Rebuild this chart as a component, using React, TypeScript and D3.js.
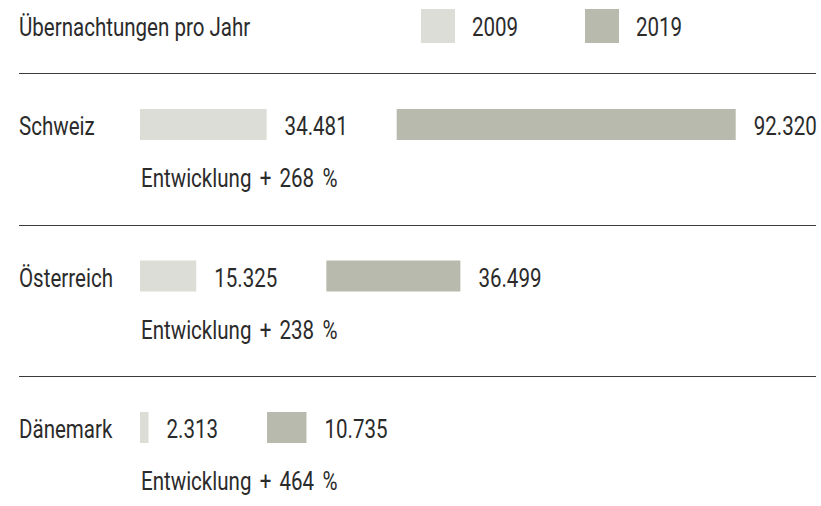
import React, { useEffect, useRef } from "react";
import * as d3 from "d3";

const title = "Übernachtungen pro Jahr";
const years = ["2009", "2019"];
const countries = ["Schweiz", "Österreich", "Dänemark"];
const values2009 = [34481, 15325, 2313];
const values2019 = [92320, 36499, 10735];
const growth = [268, 238, 464];

const W = 821;
const H = 506;
const FONT = "Roboto, 'Liberation Sans', Arial, sans-serif";
const FS = 26;
const SX = 0.79;
const TEXT = "#2b2b2b";
const COLORS = ["#dcddd6", "#b7baac"];

const fmt = (v: number) => d3.format(",")(v).replace(/,/g, ".");

export default function App() {
  const ref = useRef<SVGSVGElement>(null);

  useEffect(() => {
    const svg = d3.select(ref.current);
    svg.selectAll("*").remove();
    const g = svg.append("g").style("font-family", FONT);

    // condensed text: returns rendered width
    const label = (x: number, y: number, s: string, ws = 0) => {
      const t = g.append("g").attr("transform", `translate(${x},${y}) scale(${SX},1)`)
        .append("text").attr("font-size", FS).attr("fill", TEXT)
        .style("word-spacing", `${ws}px`).text(s);
      return (t.node() as SVGTextElement).getComputedTextLength() * SX;
    };

    label(19, 36, title);

    const legendX = d3.scalePoint<string>().domain(years).range([421, 585]);
    years.forEach((y, i) => {
      const lx = legendX(y)!;
      g.append("rect").attr("x", lx).attr("y", 9).attr("width", 34).attr("height", 34).attr("fill", COLORS[i]);
      label(lx + 51, 36, y);
    });

    const rowY = d3.scalePoint<string>().domain(countries).range([73, 376]);
    const x = d3.scaleLinear().domain([0, d3.max(values2019)!]).range([0, 339]);
    const x0 = 140;

    countries.forEach((c, i) => {
      const top = rowY(c)!;
      g.append("line").attr("x1", 19).attr("x2", 816)
        .attr("y1", Math.round(top) + 0.5).attr("y2", Math.round(top) + 0.5)
        .attr("stroke", "#3a3a3a").attr("stroke-width", 1);

      const barY = top + 36;
      const barH = 31;
      const baseY = barY + 26;

      label(19, baseY, c);

      const w1 = x(values2009[i]);
      g.append("rect").attr("x", x0).attr("y", barY).attr("width", w1).attr("height", barH).attr("fill", COLORS[0]);
      const l1w = label(x0 + w1 + 18, baseY, fmt(values2009[i]));

      const x2 = x0 + w1 + 18 + l1w + 49;
      const w2 = x(values2019[i]);
      g.append("rect").attr("x", x2).attr("y", barY).attr("width", w2).attr("height", barH).attr("fill", COLORS[1]);
      label(x2 + w2 + 18, baseY, fmt(values2019[i]));

      label(x0 + 1, top + 114, `Entwicklung + ${growth[i]} %`, 4);
    });
  }, []);

  return (
    <svg ref={ref} width={W} height={H} style={{ position: "absolute", left: 0, top: 0, background: "#fff" }} />
  );
}
